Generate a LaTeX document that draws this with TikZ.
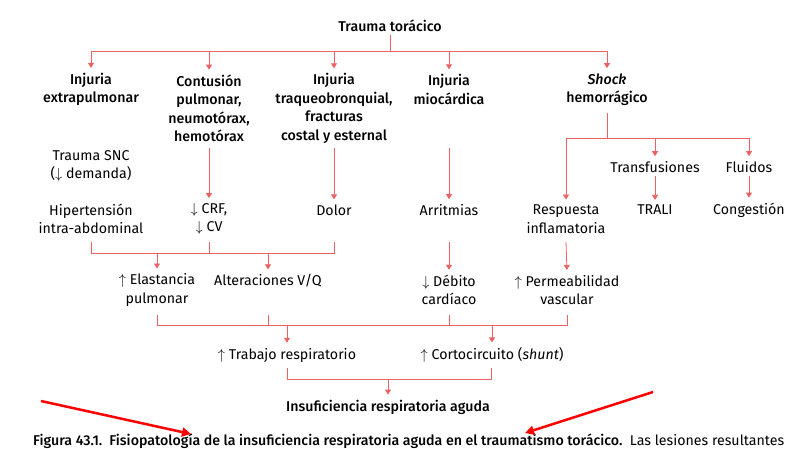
\documentclass[tikz,border=0pt]{standalone}
\usepackage{fontspec}
\setmainfont{Fira Sans}[BoldFont={Fira Sans Medium}]
\usetikzlibrary{arrows.meta, positioning}
\definecolor{flow}{RGB}{236,98,100}

\begin{document}
\begin{tikzpicture}[x=1pt, y=-1pt,
    txt/.style={align=center, inner sep=3pt, font=\fontsize{14.2}{18.5}\selectfont},
    hd/.style={txt, font=\fontsize{14.2}{18.5}\selectfont\bfseries},
    ln/.style={flow, line width=0.8pt},
    arr/.style={ln, -{Triangle[width=6pt, length=5pt]}, shorten >=2pt}]
    \useasboundingbox (0,0) rectangle (808,448);

    % top
    \node[hd] (trauma) at (390,26) {Trauma torácico};
    \node[hd] (extra) at (91,89.5) {Injuria\\extrapulmonar};
    \node[hd] (contusion) at (209,108.5) {Contusión\\pulmonar,\\neumotórax,\\hemotórax};
    \node[hd] (traqueo) at (334,108.5) {Injuria\\traqueobronquial,\\fracturas\\costal y esternal};
    \node[hd] (miocard) at (449,89.5) {Injuria\\miocárdica};
    \node[hd] (shock) at (607,89.5) {\textit{Shock}\\hemorrágico};

    \draw[ln] (trauma.south) -- (390,51) coordinate (t-mid);
    \draw[ln] (91,51) -- (607,51);
    \foreach \n in {extra, contusion, traqueo, miocard, shock}
      \draw[arr] (\n |- t-mid) -- (\n.north);

    % middle
    \node[txt] (snc) at (91,166) {Trauma SNC\\($\downarrow$ demanda)};
    \node[txt] (hiper) at (91,219) {Hipertensión\\intra-abdominal};
    \node[txt] (crf) at (209,219) {$\downarrow$ CRF,\\$\downarrow$ CV};
    \node[txt] (dolor) at (334,210) {Dolor};
    \node[txt] (arrit) at (449,210) {Arritmias};
    \node[txt] (resp) at (566,219) {Respuesta\\inflamatoria};
    \node[txt] (transf) at (655,167) {Transfusiones};
    \node[txt] (fluid) at (749,167) {Fluidos};
    \node[txt] (trali) at (655,210) {TRALI};
    \node[txt] (cong) at (749,210) {Congestión};

    \draw[arr] (209,148) -- (crf.north);
    \draw[arr] (334,148) -- (dolor.north);
    \draw[arr] (449,148) -- (arrit.north);
    \draw[ln] (607,113) -- (607,138) coordinate (s-mid);
    \draw[ln] (566,138) -- (749,138);
    \draw[arr] (resp |- s-mid) -- (resp.north);
    \draw[arr] (transf |- s-mid) -- (transf.north);
    \draw[arr] (fluid |- s-mid) -- (fluid.north);
    \draw[arr] (transf.south) -- (trali.north);
    \draw[arr] (fluid.south) -- (cong.north);

    % lower
    \node[txt] (elast) at (157,290) {$\uparrow$ Elastancia\\pulmonar};
    \node[txt] (vq) at (268,281) {Alteraciones V/Q};
    \node[txt] (debito) at (449,290) {$\downarrow$ Débito\\cardíaco};
    \node[txt] (perm) at (567,290) {$\uparrow$ Permeabilidad\\vascular};

    \draw[ln] (91,242) -- (91,253) -- (334,253) -- (334,242);
    \draw[ln] (209,242) -- (209,253) coordinate (b-mid);
    \draw[arr] (elast |- b-mid) -- (elast.north);
    \draw[arr] (vq |- b-mid) -- (vq.north);
    \draw[arr] (449,242) -- (debito.north);
    \draw[arr] (566,242) -- (perm.north);

    \node[txt] (trabajo) at (287,355) {$\uparrow$ Trabajo respiratorio};
    \node[txt] (corto) at (492,355) {$\uparrow$ Cortocircuito (\textit{shunt})};

    \draw[ln] (157,315) -- (157,325) coordinate (c-mid) -- (567,325) -- (567,315);
    \draw[ln] (268,315) -- (268,325);
    \draw[ln] (449,315) -- (449,325);
    \draw[arr] (trabajo |- c-mid) -- (trabajo.north);
    \draw[arr] (corto |- c-mid) -- (corto.north);

    \node[hd] (insuf) at (388,407) {Insuficiencia respiratoria aguda};
    \draw[ln] (287,368) -- (287,379) coordinate (d-mid) -- (491,379) -- (491,368);
    \draw[arr] (insuf |- d-mid) -- (insuf.north);

    % caption
    \node[anchor=base west, inner sep=0, font=\fontsize{14.2}{16}\selectfont] (caption) at (33,445)
      {\textbf{Figura 43.1.\ \ Fisiopatología de la insuficiencia respiratoria aguda en el traumatismo torácico.}\ \ Las lesiones resultantes};
    \coordinate (p1) at (41,401);
    \coordinate (p2) at (653,392);
    \draw[red, line width=2.5pt, -{Triangle[width=9pt, length=9pt]}] (p1) -- (191,434);
    \draw[red, line width=2.5pt, -{Triangle[width=9pt, length=9pt]}] (p2) -- (525,433);
\end{tikzpicture}
\end{document}
